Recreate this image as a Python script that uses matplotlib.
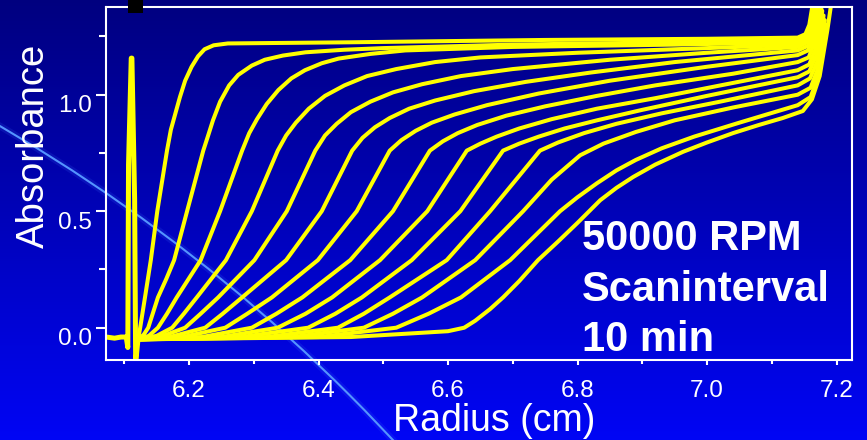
import matplotlib
matplotlib.use("Agg")
import matplotlib.pyplot as plt
import matplotlib.patches as patches
import numpy as np
from matplotlib.ticker import MultipleLocator, FormatStrFormatter
from matplotlib.transforms import ScaledTranslation

plt.rcParams['font.family'] = ['Liberation Sans', 'DejaVu Sans']

# meniscus region: flat baseline, then the meniscus spike (all scans overlap here)
meniscus_r = [6.072, 6.085, 6.095, 6.103, 6.1055, 6.1066, 6.1108, 6.1118, 6.1160, 6.1176, 6.1212]
meniscus_a = [-0.04, -0.045, -0.04, -0.04, -0.085, 0.70, 1.157, 1.157, 0.55, -0.15, -0.05]

# scans, 10 min apart: (radius cm, absorbance)
scan_01 = [(6.1212, -0.05), (6.124, -0.01), (6.132, 0.13), (6.141, 0.29), (6.151, 0.50),
           (6.166, 0.76), (6.172, 0.85), (6.178, 0.91), (6.186, 0.99), (6.194, 1.06),
           (6.204, 1.12), (6.214, 1.165), (6.224, 1.195), (6.238, 1.212), (6.26, 1.22),
           (6.45, 1.225), (6.75, 1.235), (7.0, 1.24), (7.14, 1.245), (7.152, 1.26),
           (7.158, 1.30), (7.165, 1.42)]
scan_02 = [(6.1212, -0.05), (6.130, -0.03), (6.137, 0.0), (6.152, 0.13), (6.165, 0.21),
           (6.177, 0.29), (6.197, 0.50), (6.222, 0.76), (6.229, 0.82), (6.237, 0.89),
           (6.248, 0.97), (6.262, 1.04), (6.276, 1.085), (6.297, 1.125), (6.317, 1.15),
           (6.345, 1.168), (6.38, 1.182), (6.44, 1.193), (6.5, 1.20), (6.7, 1.215),
           (6.95, 1.225), (7.14, 1.235), (7.153, 1.25), (7.16, 1.30), (7.168, 1.42)]
scan_03 = [(6.1212, -0.05), (6.138, -0.035), (6.152, 0.0), (6.166, 0.06), (6.181, 0.13),
           (6.218, 0.29), (6.248, 0.50), (6.282, 0.76), (6.293, 0.835), (6.305, 0.895),
           (6.32, 0.96), (6.338, 1.02), (6.358, 1.07), (6.379, 1.105), (6.405, 1.135),
           (6.431, 1.155), (6.48, 1.175), (6.534, 1.19), (6.7, 1.205), (6.95, 1.215),
           (7.14, 1.225), (7.154, 1.24), (7.162, 1.30), (7.17, 1.42)]
scan_04 = [(6.1212, -0.05), (6.15, -0.035), (6.174, 0.0), (6.192, 0.06), (6.212, 0.13),
           (6.257, 0.29), (6.297, 0.50), (6.337, 0.76), (6.35, 0.825), (6.365, 0.88),
           (6.385, 0.94), (6.41, 0.995), (6.44, 1.04), (6.475, 1.08), (6.52, 1.11),
           (6.58, 1.14), (6.65, 1.16), (6.8, 1.18), (7.0, 1.20), (7.14, 1.215),
           (7.155, 1.235), (7.163, 1.29), (7.171, 1.42)]
scan_05 = [(6.1212, -0.05), (6.16, -0.035), (6.194, 0.0), (6.218, 0.06), (6.245, 0.13),
           (6.301, 0.29), (6.351, 0.50), (6.395, 0.76), (6.41, 0.825), (6.428, 0.875),
           (6.45, 0.925), (6.48, 0.97), (6.515, 1.01), (6.56, 1.045), (6.62, 1.08),
           (6.7, 1.11), (6.85, 1.15), (7.0, 1.18), (7.14, 1.205), (7.155, 1.225),
           (7.164, 1.28), (7.172, 1.42)]
scan_06 = [(6.1212, -0.05), (6.17, -0.04), (6.225, 0.0), (6.252, 0.06), (6.282, 0.13),
           (6.350, 0.29), (6.405, 0.50), (6.452, 0.76), (6.468, 0.815), (6.487, 0.86),
           (6.51, 0.90), (6.54, 0.94), (6.58, 0.975), (6.64, 1.015), (6.72, 1.055),
           (6.82, 1.095), (6.95, 1.14), (7.14, 1.19), (7.156, 1.21), (7.165, 1.27),
           (7.173, 1.42)]
scan_07 = [(6.1212, -0.05), (6.19, -0.04), (6.256, 0.0), (6.29, 0.06), (6.328, 0.13),
           (6.399, 0.29), (6.459, 0.50), (6.510, 0.76), (6.528, 0.805), (6.55, 0.845),
           (6.575, 0.88), (6.61, 0.915), (6.66, 0.955), (6.74, 1.005), (6.85, 1.06),
           (7.0, 1.12), (7.14, 1.17), (7.156, 1.19), (7.166, 1.25), (7.174, 1.40)]
scan_08 = [(6.1212, -0.05), (6.22, -0.04), (6.297, 0.0), (6.335, 0.06), (6.375, 0.13),
           (6.449, 0.29), (6.515, 0.50), (6.572, 0.76), (6.592, 0.80), (6.615, 0.835),
           (6.645, 0.87), (6.69, 0.91), (6.75, 0.95), (6.83, 0.995), (6.92, 1.04),
           (7.04, 1.09), (7.14, 1.14), (7.157, 1.16), (7.167, 1.23), (7.176, 1.40)]
scan_09 = [(6.1212, -0.05), (6.25, -0.04), (6.337, 0.0), (6.38, 0.06), (6.421, 0.13),
           (6.495, 0.29), (6.568, 0.50), (6.629, 0.76), (6.65, 0.79), (6.675, 0.82),
           (6.71, 0.855), (6.76, 0.895), (6.83, 0.94), (6.92, 0.985), (7.03, 1.045),
           (7.14, 1.105), (7.158, 1.13), (7.168, 1.20), (7.177, 1.38)]
scan_10 = [(6.1212, -0.05), (6.28, -0.04), (6.384, 0.0), (6.426, 0.06), (6.467, 0.13),
           (6.544, 0.29), (6.619, 0.50), (6.685, 0.76), (6.71, 0.79), (6.74, 0.82),
           (6.78, 0.855), (6.83, 0.89), (6.9, 0.935), (7.0, 0.995), (7.14, 1.075),
           (7.158, 1.10), (7.169, 1.17), (7.178, 1.36)]
scan_11 = [(6.1212, -0.05), (6.32, -0.04), (6.43, 0.0), (6.47, 0.06), (6.51, 0.13),
           (6.598, 0.29), (6.665, 0.50), (6.742, 0.76), (6.77, 0.795), (6.81, 0.835),
           (6.86, 0.875), (6.93, 0.92), (7.02, 0.97), (7.14, 1.04), (7.159, 1.07),
           (7.17, 1.14), (7.18, 1.34)]
scan_12 = [(6.1212, -0.05), (6.36, -0.04), (6.47, 0.0), (6.515, 0.06), (6.56, 0.13),
           (6.642, 0.29), (6.716, 0.50), (6.76, 0.635), (6.804, 0.74), (6.84, 0.79),
           (6.89, 0.84), (6.95, 0.89), (7.04, 0.945), (7.14, 1.00), (7.16, 1.03),
           (7.171, 1.11), (7.182, 1.32)]
scan_13 = [(6.1212, -0.05), (6.40, -0.04), (6.52, 0.0), (6.57, 0.06), (6.62, 0.13),
           (6.696, 0.29), (6.773, 0.50), (6.80, 0.56), (6.83, 0.62), (6.86, 0.675),
           (6.89, 0.72), (6.93, 0.77), (6.98, 0.82), (7.05, 0.88), (7.14, 0.955),
           (7.16, 0.99), (7.172, 1.08), (7.184, 1.30)]
scan_14 = [(6.1212, -0.05), (6.45, -0.04), (6.60, -0.015), (6.625, 0.0), (6.642, 0.03),
           (6.665, 0.08), (6.685, 0.13), (6.71, 0.20), (6.739, 0.29), (6.77, 0.37),
           (6.800, 0.45), (6.835, 0.547), (6.86, 0.60), (6.886, 0.647), (6.92, 0.70),
           (6.963, 0.755), (7.0, 0.795), (7.04, 0.835), (7.08, 0.87), (7.117, 0.90),
           (7.148, 0.93), (7.162, 0.98), (7.174, 1.08), (7.186, 1.28), (7.195, 1.45)]

scans = [scan_01, scan_02, scan_03, scan_04, scan_05, scan_06, scan_07,
         scan_08, scan_09, scan_10, scan_11, scan_12, scan_13, scan_14]

rotor_label = ["50000 RPM", "Scaninterval", "10 min"]

W, H = 867, 440
fig = plt.figure(figsize=(W / 100, H / 100), dpi=100)

# background: vertical blue gradient plus the decorative arc
bg = fig.add_axes([0, 0, 1, 1], zorder=0)
grad = np.linspace(0, 1, 256).reshape(-1, 1)
top = np.array([0.0, 0.0, 0.50])
bottom = np.array([0.0, 0.02, 0.96])
img = top + grad[..., None] * (bottom - top)
bg.imshow(img, extent=(0, W, H, 0), aspect='auto', interpolation='bilinear')
bg.add_patch(patches.Circle((-858, 1603), 1708, fill=False, ec=(0.25, 0.45, 1.0),
                            lw=5, alpha=0.15))
bg.add_patch(patches.Circle((-858, 1603), 1708, fill=False, ec=(0.33, 0.58, 1.0), lw=1.5))
bg.set_xlim(0, W)
bg.set_ylim(H, 0)
bg.axis('off')

ax = fig.add_axes([106 / W, 80 / H, 746 / W, 353 / H], zorder=1)
ax.patch.set_alpha(0)

yellow = '#ffff00'
ax.plot(meniscus_r, meniscus_a, color=yellow, lw=3.6, solid_joinstyle='round')
for scan in scans:
    r, a = zip(*scan)
    ax.plot(r, a, color=yellow, lw=2.9, solid_joinstyle='round', solid_capstyle='round')

ax.set_xlim(6.0718, 7.2239)
ax.set_ylim(-0.1386, 1.3764)

for s in ax.spines.values():
    s.set_color('white')
    s.set_linewidth(1.5)

ax.xaxis.set_major_locator(MultipleLocator(0.2))
ax.xaxis.set_minor_locator(MultipleLocator(0.1))
ax.yaxis.set_major_locator(MultipleLocator(0.5))
ax.yaxis.set_minor_locator(MultipleLocator(0.25))
ax.xaxis.set_major_formatter(FormatStrFormatter('%.1f'))
ax.yaxis.set_major_formatter(FormatStrFormatter('%.1f'))

ax.tick_params(axis='both', which='both', colors='white', width=1.5, labelsize=17.5)
ax.tick_params(axis='x', which='major', length=3.6, pad=10.5)
ax.tick_params(axis='x', which='minor', length=2.9)
ax.tick_params(axis='y', which='major', length=7.2, pad=3)
ax.tick_params(axis='y', which='minor', length=5)

# y labels sit a little below their ticks
shift = ScaledTranslation(0, -9 / 100, fig.dpi_scale_trans)
for lab in ax.get_yticklabels():
    lab.set_transform(lab.get_transform() + shift)

# small black block over the top edge of the frame
fig.add_artist(patches.Rectangle((128 / W, 1 - 13 / H), 15 / W, 13 / H,
                                 transform=fig.transFigure, fc='black', ec='none',
                                 zorder=5))

fig.text(34 / W, 1 - 146 / H, "Absorbance", rotation=90, color='white',
         fontsize=27.5, ha='center', va='center')
fig.text(494 / W, 1 - 431 / H, "Radius (cm)", color='white', fontsize=27,
         ha='center', va='baseline')

for i, line in enumerate(rotor_label):
    fig.text(582 / W, 1 - (250 + 50.5 * i) / H, line, color='white', fontsize=30,
             fontweight='bold', ha='left', va='baseline')

fig.savefig('out.png', dpi=100)
